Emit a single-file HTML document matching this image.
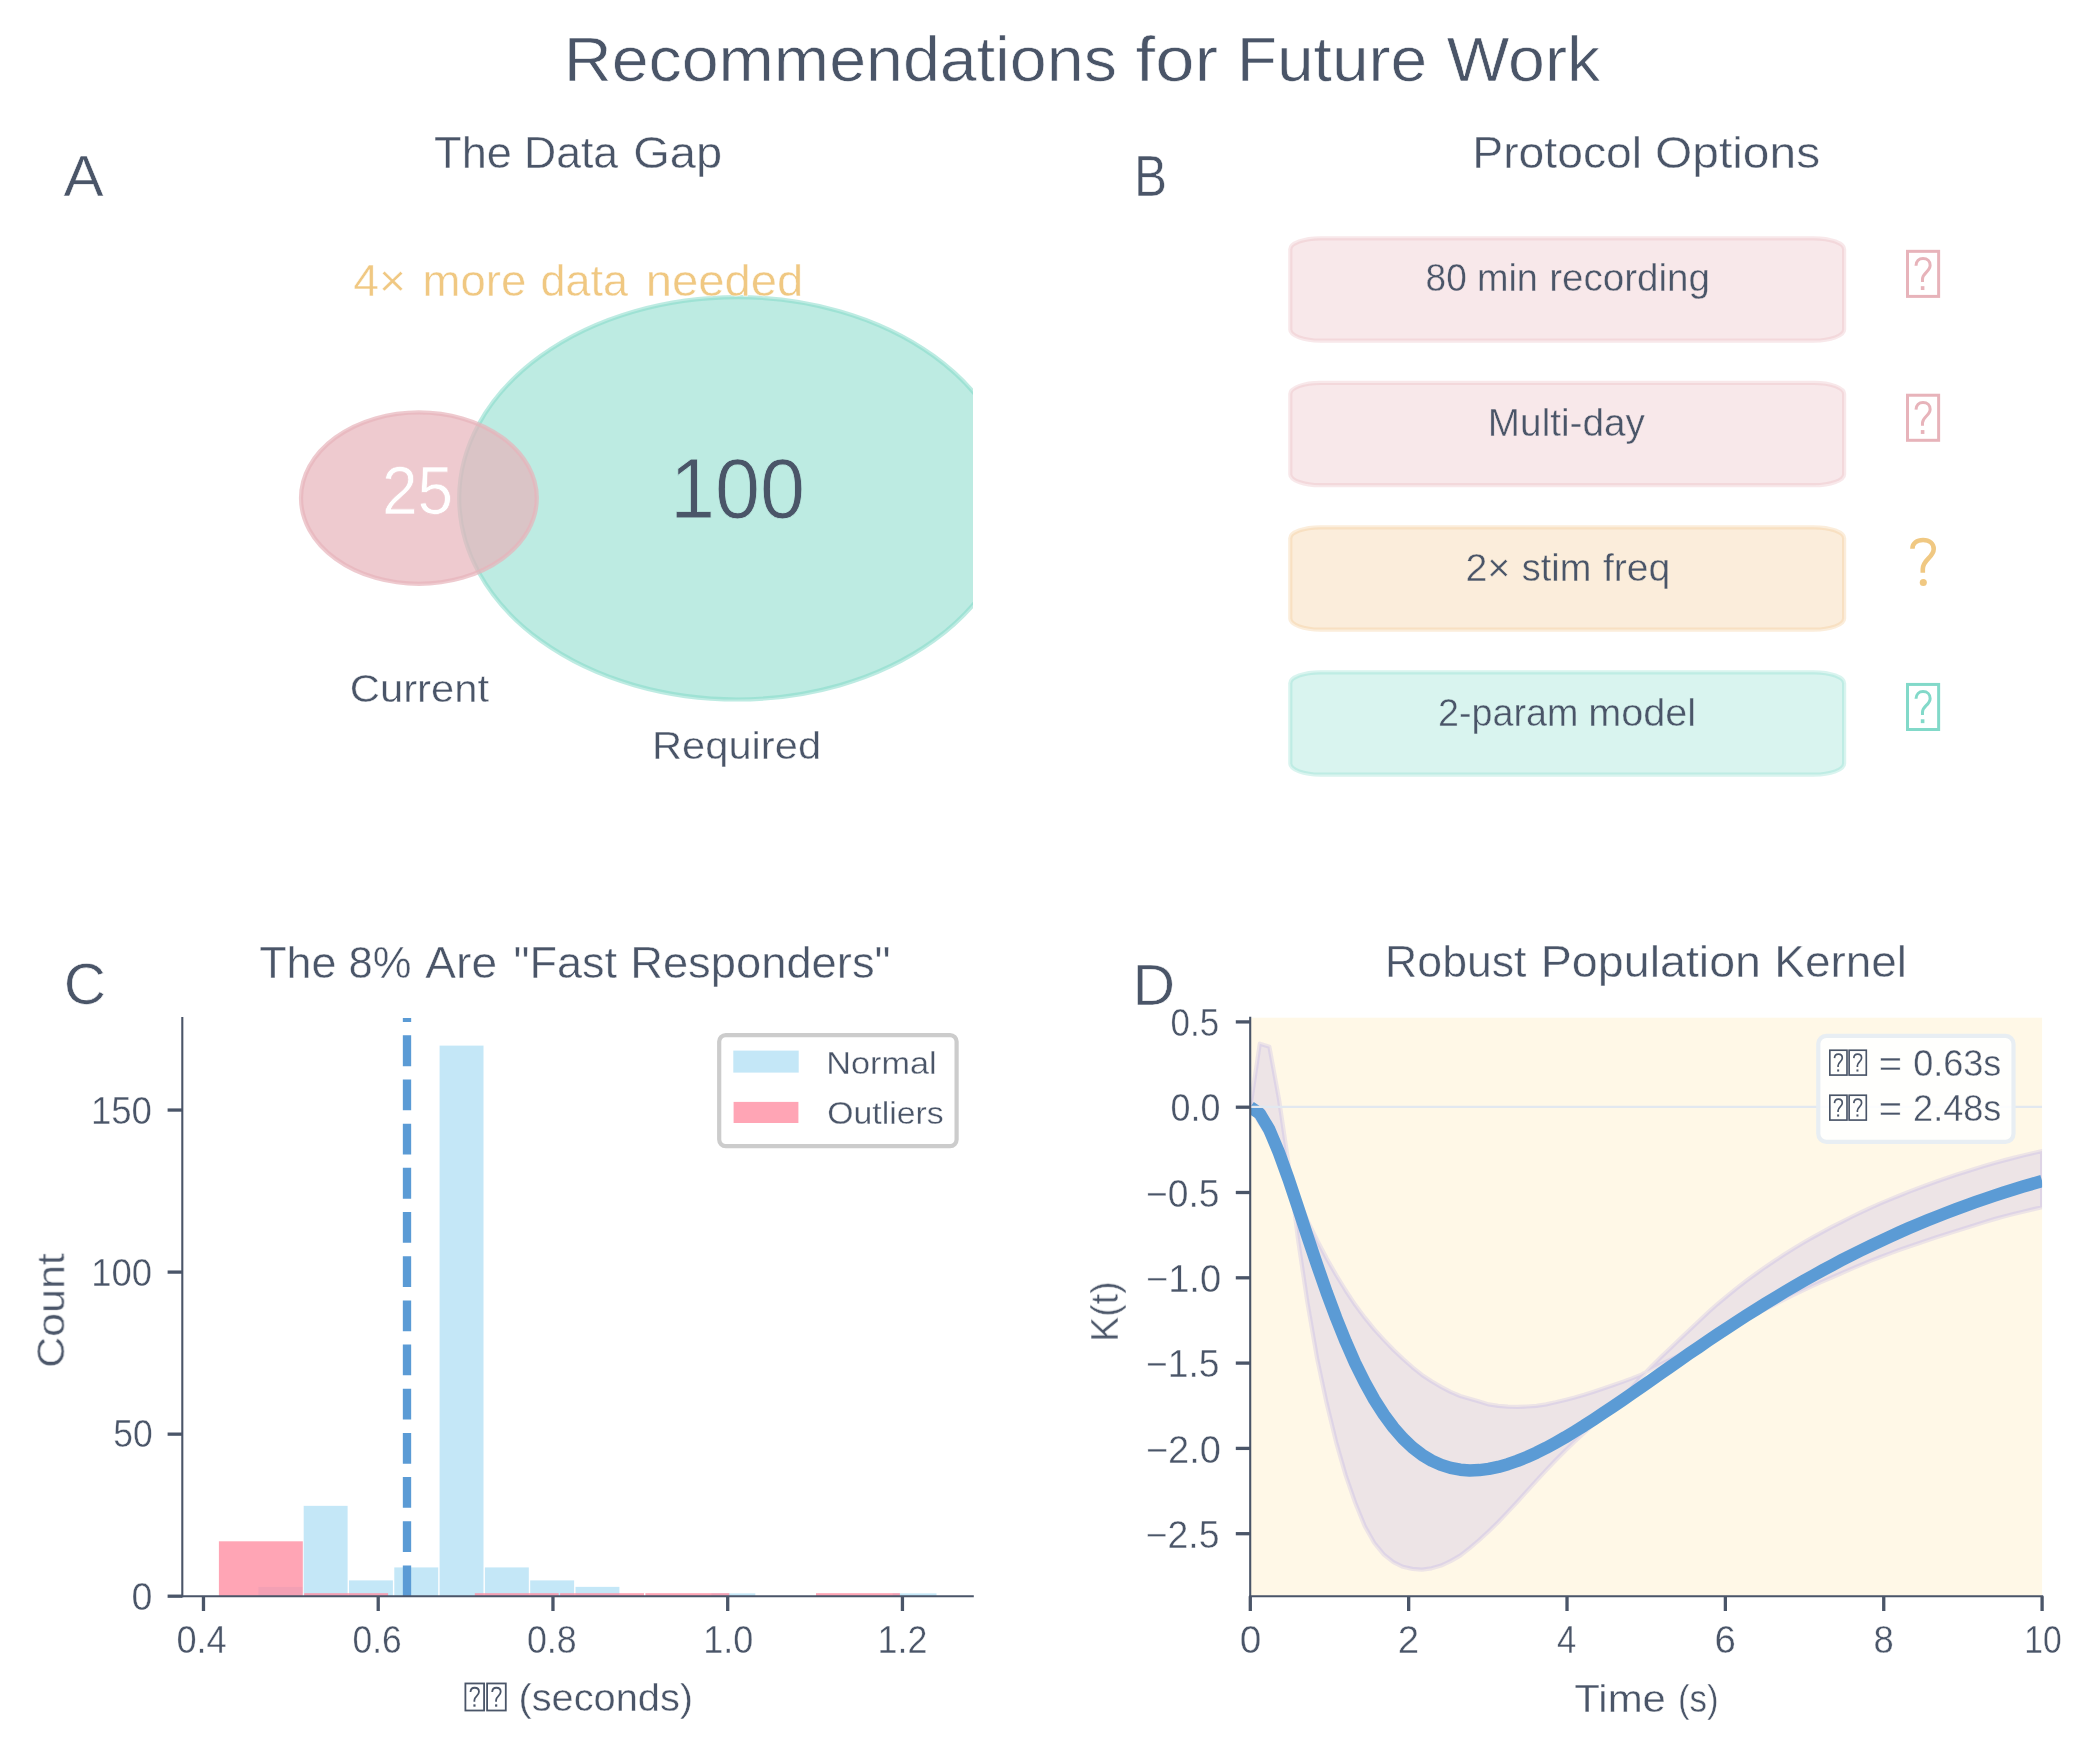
<!DOCTYPE html>
<html><head><meta charset="utf-8"><title>Recommendations for Future Work</title>
<style>html,body{margin:0;padding:0;background:#fff}svg{display:block}text{font-family:"Liberation Sans",sans-serif}</style></head><body>
<svg width="2092" height="1754" viewBox="0 0 2092 1754">
<defs>
<clipPath id="clipA"><rect x="182" y="209" width="791" height="578"/></clipPath>
<clipPath id="clipC"><rect x="182" y="1018" width="791.5" height="578"/></clipPath>
<clipPath id="clipD"><rect x="1250.3" y="1017.7" width="791.8" height="578.3"/></clipPath>
<symbol id="tofu" viewBox="0 0 512 721" overflow="visible"><rect x="22.5" y="22.5" width="467" height="676" fill="none" stroke="currentColor" stroke-width="45"/><path d="M150,238 C152,170 195,130 255,130 C320,130 362,172 362,232 C362,330 247,345 247,440 L247,482" fill="none" stroke="currentColor" stroke-width="45"/><rect x="222" y="545" width="54" height="58" fill="currentColor"/></symbol>
</defs>
<rect width="2092" height="1754" fill="#fff"/>
<g clip-path="url(#clipA)">
<ellipse cx="737.2" cy="498.3" rx="278" ry="201.2" fill="rgb(130,217,201)" fill-opacity="0.53" stroke="rgb(130,217,201)" stroke-opacity="0.53" stroke-width="4.2"/>
<ellipse cx="418.9" cy="498.1" rx="117.9" ry="85.7" fill="rgb(231,179,186)" fill-opacity="0.7" stroke="rgb(231,179,186)" stroke-opacity="0.7" stroke-width="4.2"/>
</g>
<rect x="1290.3" y="238.3" width="553.8" height="102.3" rx="30" ry="11" fill="rgb(231,179,186)" fill-opacity="0.3" stroke="rgb(231,179,186)" stroke-opacity="0.3" stroke-width="4.2"/>
<rect x="1290.3" y="382.9" width="553.8" height="102.3" rx="30" ry="11" fill="rgb(231,179,186)" fill-opacity="0.3" stroke="rgb(231,179,186)" stroke-opacity="0.3" stroke-width="4.2"/>
<rect x="1290.3" y="527.3" width="553.8" height="102.3" rx="30" ry="11" fill="rgb(242,197,136)" fill-opacity="0.3" stroke="rgb(242,197,136)" stroke-opacity="0.3" stroke-width="4.2"/>
<rect x="1290.3" y="672.3" width="553.8" height="102.3" rx="30" ry="11" fill="rgb(130,217,201)" fill-opacity="0.3" stroke="rgb(130,217,201)" stroke-opacity="0.3" stroke-width="4.2"/>
<use href="#tofu" x="1906.00" y="249.83" width="34.14" height="48.07" style="color:rgb(231,179,186)"/>
<use href="#tofu" x="1906.00" y="393.73" width="34.14" height="48.07" style="color:rgb(231,179,186)"/>
<use href="#tofu" x="1906.00" y="682.93" width="34.14" height="48.07" style="color:rgb(130,217,201)"/>
<path d="M1912.4,548.8 C1912.5,543.4 1916.9,540 1923.1,540 C1929.5,540 1933.7,543.6 1933.7,549 C1933.7,557.5 1922.8,559.5 1922.8,569 L1922.8,572.7" fill="none" stroke="#f0c882" stroke-width="4.6"/>
<circle cx="1923.3" cy="582.5" r="3.55" fill="#f0c882"/>
<g clip-path="url(#clipC)">
<rect x="258.40" y="1586.88" width="43.90" height="9.32" fill="#89cff0" fill-opacity="0.5"/>
<rect x="303.70" y="1505.85" width="43.90" height="90.35" fill="#89cff0" fill-opacity="0.5"/>
<rect x="349.00" y="1580.40" width="43.90" height="15.81" fill="#89cff0" fill-opacity="0.5"/>
<rect x="394.30" y="1567.43" width="43.90" height="28.77" fill="#89cff0" fill-opacity="0.5"/>
<rect x="439.60" y="1045.63" width="43.90" height="550.57" fill="#89cff0" fill-opacity="0.5"/>
<rect x="484.90" y="1567.43" width="43.90" height="28.77" fill="#89cff0" fill-opacity="0.5"/>
<rect x="530.20" y="1580.40" width="43.90" height="15.81" fill="#89cff0" fill-opacity="0.5"/>
<rect x="575.50" y="1586.88" width="43.90" height="9.32" fill="#89cff0" fill-opacity="0.5"/>
<rect x="711.40" y="1593.36" width="43.90" height="2.84" fill="#89cff0" fill-opacity="0.5"/>
<rect x="892.60" y="1593.36" width="43.90" height="2.84" fill="#89cff0" fill-opacity="0.5"/>
<rect x="218.90" y="1541.30" width="83.90" height="54.90" fill="#ff8fa3" fill-opacity="0.8"/>
<rect x="304.20" y="1593.16" width="83.90" height="3.04" fill="#ff8fa3" fill-opacity="0.8"/>
<rect x="474.80" y="1593.16" width="83.90" height="3.04" fill="#ff8fa3" fill-opacity="0.8"/>
<rect x="560.10" y="1593.16" width="83.90" height="3.04" fill="#ff8fa3" fill-opacity="0.8"/>
<rect x="645.40" y="1593.16" width="83.90" height="3.04" fill="#ff8fa3" fill-opacity="0.8"/>
<rect x="816.00" y="1593.16" width="83.90" height="3.04" fill="#ff8fa3" fill-opacity="0.8"/>
<line x1="407" y1="1596.2" x2="407" y2="1010" stroke="#5b9bd5" stroke-width="8.33" stroke-dasharray="30.8 13.37"/>
</g>
<line x1="182.3" y1="1017" x2="182.3" y2="1597.25" stroke="#4a5568" stroke-width="2.1"/>
<line x1="181.25" y1="1596.2" x2="973.8" y2="1596.2" stroke="#4a5568" stroke-width="2.1"/>
<line x1="167.6" y1="1596.20" x2="182.3" y2="1596.20" stroke="#4a5568" stroke-width="3.3"/>
<line x1="167.6" y1="1434.15" x2="182.3" y2="1434.15" stroke="#4a5568" stroke-width="3.3"/>
<line x1="167.6" y1="1272.10" x2="182.3" y2="1272.10" stroke="#4a5568" stroke-width="3.3"/>
<line x1="167.6" y1="1110.05" x2="182.3" y2="1110.05" stroke="#4a5568" stroke-width="3.3"/>
<line x1="203.48" y1="1596.2" x2="203.48" y2="1611" stroke="#4a5568" stroke-width="3.3"/>
<line x1="378.22" y1="1596.2" x2="378.22" y2="1611" stroke="#4a5568" stroke-width="3.3"/>
<line x1="552.96" y1="1596.2" x2="552.96" y2="1611" stroke="#4a5568" stroke-width="3.3"/>
<line x1="727.70" y1="1596.2" x2="727.70" y2="1611" stroke="#4a5568" stroke-width="3.3"/>
<line x1="902.44" y1="1596.2" x2="902.44" y2="1611" stroke="#4a5568" stroke-width="3.3"/>
<rect x="719.2" y="1035.1" width="237.4" height="111" rx="6.5" ry="6.5" fill="#fff" fill-opacity="0.9" stroke="#cccccc" stroke-width="4.2"/>
<rect x="733.3" y="1050.6" width="65.4" height="22" fill="#89cff0" fill-opacity="0.5"/>
<rect x="733.6" y="1101.9" width="64.8" height="21.1" fill="#ff8fa3" fill-opacity="0.8"/>
<use href="#tofu" x="464.50" y="1682.56" width="20.48" height="28.84" style="color:#4a5568"/>
<use href="#tofu" x="486.20" y="1682.56" width="20.48" height="28.84" style="color:#4a5568"/>
<rect x="1250.3" y="1017.7" width="791.8" height="578.3" fill="#fff8e7"/>
<g clip-path="url(#clipD)">
<polygon points="1250.3,1107.2 1259.8,1043.7 1269.4,1046.8 1278.9,1098.6 1288.5,1163.5 1298.0,1239.3 1307.5,1302.9 1317.1,1358.4 1326.6,1403.1 1336.2,1442.3 1345.7,1475.4 1355.2,1502.8 1364.8,1526.3 1374.3,1543.0 1383.9,1554.6 1393.4,1562.2 1402.9,1566.8 1412.5,1568.9 1422.0,1569.7 1431.6,1568.3 1441.1,1565.6 1450.6,1561.1 1460.2,1555.6 1469.7,1548.2 1479.3,1540.0 1488.8,1531.3 1498.3,1522.0 1507.9,1511.9 1517.4,1501.7 1527.0,1491.1 1536.5,1480.6 1546.0,1470.3 1555.6,1460.2 1565.1,1450.7 1574.7,1441.6 1584.2,1432.8 1593.7,1424.2 1603.3,1415.6 1612.8,1406.6 1622.4,1397.5 1631.9,1387.7 1641.4,1377.0 1651.0,1367.0 1660.5,1357.5 1670.0,1348.4 1679.6,1339.3 1689.1,1330.3 1698.7,1321.2 1708.2,1312.3 1717.7,1303.8 1727.3,1295.8 1736.8,1288.1 1746.4,1280.7 1755.9,1273.7 1765.4,1266.9 1775.0,1260.4 1784.5,1254.2 1794.1,1248.3 1803.6,1242.5 1813.1,1237.1 1822.7,1231.8 1832.2,1226.7 1841.8,1221.8 1851.3,1217.0 1860.8,1212.4 1870.4,1207.9 1879.9,1203.6 1889.5,1199.6 1899.0,1195.7 1908.5,1191.9 1918.1,1188.3 1927.6,1184.8 1937.2,1181.3 1946.7,1178.0 1956.2,1174.8 1965.8,1171.7 1975.3,1168.7 1984.9,1165.8 1994.4,1163.0 2003.9,1160.4 2013.5,1157.9 2023.0,1155.5 2032.6,1153.2 2042.1,1151.0 2042.1,1207.3 2032.6,1209.4 2023.0,1211.7 2013.5,1214.0 2003.9,1216.5 1994.4,1219.1 1984.9,1221.9 1975.3,1224.9 1965.8,1227.9 1956.2,1230.9 1946.7,1233.9 1937.2,1237.0 1927.6,1240.2 1918.1,1243.5 1908.5,1246.8 1899.0,1250.1 1889.5,1253.6 1879.9,1257.2 1870.4,1260.9 1860.8,1264.9 1851.3,1268.9 1841.8,1273.1 1832.2,1277.2 1822.7,1281.4 1813.1,1285.7 1803.6,1290.2 1794.1,1294.7 1784.5,1299.4 1775.0,1304.3 1765.4,1309.2 1755.9,1314.0 1746.4,1319.0 1736.8,1323.9 1727.3,1329.0 1717.7,1334.1 1708.2,1339.4 1698.7,1344.8 1689.1,1350.1 1679.6,1355.2 1670.0,1359.8 1660.5,1364.4 1651.0,1369.5 1641.4,1374.6 1631.9,1378.4 1622.4,1381.9 1612.8,1385.2 1603.3,1388.5 1593.7,1391.7 1584.2,1394.8 1574.7,1397.5 1565.1,1400.0 1555.6,1402.3 1546.0,1404.4 1536.5,1405.8 1527.0,1406.5 1517.4,1406.9 1507.9,1406.7 1498.3,1405.8 1488.8,1404.4 1479.3,1401.6 1469.7,1398.7 1460.2,1396.0 1450.6,1391.8 1441.1,1386.9 1431.6,1381.3 1422.0,1374.9 1412.5,1367.3 1402.9,1358.8 1393.4,1349.8 1383.9,1339.9 1374.3,1329.3 1364.8,1317.7 1355.2,1304.8 1345.7,1290.5 1336.2,1275.0 1326.6,1258.3 1317.1,1240.3 1307.5,1220.8 1298.0,1197.7 1288.5,1176.9 1278.9,1157.4 1269.4,1138.6 1259.8,1122.9 1250.3,1107.2" fill="rgb(165,148,232)" fill-opacity="0.2" stroke="rgb(165,148,232)" stroke-opacity="0.2" stroke-width="4.2" stroke-linejoin="round"/>
<polyline points="1250.3,1107.2 1259.8,1113.6 1269.4,1129.8 1278.9,1152.5 1288.5,1179.0 1298.0,1207.5 1307.5,1236.5 1317.1,1265.0 1326.6,1292.3 1336.2,1318.0 1345.7,1341.6 1355.2,1363.2 1364.8,1382.5 1374.3,1399.6 1383.9,1414.6 1393.4,1427.5 1402.9,1438.4 1412.5,1447.5 1422.0,1454.8 1431.6,1460.6 1441.1,1464.9 1450.6,1467.9 1460.2,1469.7 1469.7,1470.4 1479.3,1470.1 1488.8,1468.9 1498.3,1466.9 1507.9,1464.2 1517.4,1460.9 1527.0,1457.0 1536.5,1452.7 1546.0,1447.9 1555.6,1442.7 1565.1,1437.3 1574.7,1431.5 1584.2,1425.6 1593.7,1419.4 1603.3,1413.1 1612.8,1406.7 1622.4,1400.2 1631.9,1393.6 1641.4,1387.0 1651.0,1380.3 1660.5,1373.6 1670.0,1367.0 1679.6,1360.3 1689.1,1353.7 1698.7,1347.2 1708.2,1340.7 1717.7,1334.3 1727.3,1328.0 1736.8,1321.8 1746.4,1315.6 1755.9,1309.6 1765.4,1303.6 1775.0,1297.8 1784.5,1292.0 1794.1,1286.4 1803.6,1280.9 1813.1,1275.6 1822.7,1270.3 1832.2,1265.2 1841.8,1260.1 1851.3,1255.2 1860.8,1250.5 1870.4,1245.8 1879.9,1241.3 1889.5,1236.8 1899.0,1232.5 1908.5,1228.3 1918.1,1224.3 1927.6,1220.3 1937.2,1216.5 1946.7,1212.7 1956.2,1209.1 1965.8,1205.6 1975.3,1202.2 1984.9,1198.9 1994.4,1195.6 2003.9,1192.5 2013.5,1189.5 2023.0,1186.6 2032.6,1183.8 2042.1,1181.0" fill="none" stroke="#5b9bd5" stroke-width="12.5" stroke-linejoin="round"/>
<line x1="1250.3" y1="1106.9" x2="2042.1" y2="1106.9" stroke="#e2e8f0" stroke-width="2.1"/>
</g>
<line x1="1250.2" y1="1016.8" x2="1250.2" y2="1597.25" stroke="#4a5568" stroke-width="2.1"/>
<line x1="1249.15" y1="1596.2" x2="2043.2" y2="1596.2" stroke="#4a5568" stroke-width="2.1"/>
<line x1="1235.8" y1="1021.90" x2="1250.3" y2="1021.90" stroke="#4a5568" stroke-width="3.3"/>
<line x1="1235.8" y1="1107.20" x2="1250.3" y2="1107.20" stroke="#4a5568" stroke-width="3.3"/>
<line x1="1235.8" y1="1192.50" x2="1250.3" y2="1192.50" stroke="#4a5568" stroke-width="3.3"/>
<line x1="1235.8" y1="1277.80" x2="1250.3" y2="1277.80" stroke="#4a5568" stroke-width="3.3"/>
<line x1="1235.8" y1="1363.10" x2="1250.3" y2="1363.10" stroke="#4a5568" stroke-width="3.3"/>
<line x1="1235.8" y1="1448.40" x2="1250.3" y2="1448.40" stroke="#4a5568" stroke-width="3.3"/>
<line x1="1235.8" y1="1533.70" x2="1250.3" y2="1533.70" stroke="#4a5568" stroke-width="3.3"/>
<line x1="1250.30" y1="1596.2" x2="1250.30" y2="1611" stroke="#4a5568" stroke-width="3.3"/>
<line x1="1408.66" y1="1596.2" x2="1408.66" y2="1611" stroke="#4a5568" stroke-width="3.3"/>
<line x1="1567.02" y1="1596.2" x2="1567.02" y2="1611" stroke="#4a5568" stroke-width="3.3"/>
<line x1="1725.38" y1="1596.2" x2="1725.38" y2="1611" stroke="#4a5568" stroke-width="3.3"/>
<line x1="1883.74" y1="1596.2" x2="1883.74" y2="1611" stroke="#4a5568" stroke-width="3.3"/>
<line x1="2042.10" y1="1596.2" x2="2042.10" y2="1611" stroke="#4a5568" stroke-width="3.3"/>
<rect x="1818.3" y="1035.8" width="195.2" height="106" rx="8" ry="8" fill="#fff" fill-opacity="0.9" stroke="rgb(232,238,243)" stroke-width="4.2"/>
<use href="#tofu" x="1829.00" y="1049.40" width="18.82" height="26.50" style="color:#4a5568"/>
<use href="#tofu" x="1848.30" y="1049.40" width="18.82" height="26.50" style="color:#4a5568"/>
<use href="#tofu" x="1829.00" y="1094.40" width="18.82" height="26.50" style="color:#4a5568"/>
<use href="#tofu" x="1848.30" y="1094.40" width="18.82" height="26.50" style="color:#4a5568"/>
<g opacity="0.999">
<text transform="translate(563.76,81.00) scale(1.0476,1)" font-size="63.33" fill="#4a5568" stroke="#fff" stroke-width="0.63">Recommendations</text>
<text transform="translate(1135.58,81.00) scale(1.1153,1)" font-size="63.33" fill="#4a5568" stroke="#fff" stroke-width="0.63">for</text>
<text transform="translate(1236.70,81.00) scale(1.0406,1)" font-size="63.33" fill="#4a5568" stroke="#fff" stroke-width="0.63">Future</text>
<text transform="translate(1446.70,81.00) scale(1.0469,1)" font-size="63.33" fill="#4a5568" stroke="#fff" stroke-width="0.63">Work</text>
<text transform="translate(63.40,196.00) scale(1.0421,1)" font-size="57.75" fill="#4a5568" stroke="#fff" stroke-width="0.58">A</text>
<text transform="translate(1134.06,196.00) scale(0.8594,1)" font-size="57.75" fill="#4a5568" stroke="#fff" stroke-width="0.58">B</text>
<text transform="translate(63.65,1004.00) scale(1.0167,1)" font-size="57.75" fill="#4a5568" stroke="#fff" stroke-width="0.58">C</text>
<text transform="translate(1132.61,1004.60) scale(1.0229,1)" font-size="57.75" fill="#4a5568" stroke="#fff" stroke-width="0.58">D</text>
<text transform="translate(434.06,167.80) scale(1.0375,1)" font-size="43.54" fill="#4a5568" stroke="#fff" stroke-width="0.44">The</text>
<text transform="translate(523.93,167.80) scale(1.0247,1)" font-size="43.54" fill="#4a5568" stroke="#fff" stroke-width="0.44">Data</text>
<text transform="translate(633.24,167.80) scale(1.0810,1)" font-size="43.54" fill="#4a5568" stroke="#fff" stroke-width="0.44">Gap</text>
<text transform="translate(1472.31,167.80) scale(1.0636,1)" font-size="43.54" fill="#4a5568" stroke="#fff" stroke-width="0.44">Protocol</text>
<text transform="translate(1655.00,167.80) scale(1.1007,1)" font-size="43.54" fill="#4a5568" stroke="#fff" stroke-width="0.44">Options</text>
<text transform="translate(259.17,977.90) scale(1.0292,1)" font-size="43.54" fill="#4a5568" stroke="#fff" stroke-width="0.44">The</text>
<text transform="translate(348.50,977.90) scale(1.0017,1)" font-size="43.54" fill="#4a5568" stroke="#fff" stroke-width="0.44">8%</text>
<text transform="translate(425.30,977.90) scale(1.0591,1)" font-size="43.54" fill="#4a5568" stroke="#fff" stroke-width="0.44">Are</text>
<text transform="translate(513.53,977.90) scale(1.0347,1)" font-size="43.54" fill="#4a5568" stroke="#fff" stroke-width="0.44">&quot;Fast</text>
<text transform="translate(630.18,977.90) scale(1.0411,1)" font-size="43.54" fill="#4a5568" stroke="#fff" stroke-width="0.44">Responders&quot;</text>
<text transform="translate(1385.12,977.00) scale(1.0252,1)" font-size="43.54" fill="#4a5568" stroke="#fff" stroke-width="0.44">Robust</text>
<text transform="translate(1540.79,977.00) scale(1.0705,1)" font-size="43.54" fill="#4a5568" stroke="#fff" stroke-width="0.44">Population</text>
<text transform="translate(1774.24,977.00) scale(1.0550,1)" font-size="43.54" fill="#4a5568" stroke="#fff" stroke-width="0.44">Kernel</text>
<text transform="translate(353.34,295.90) scale(1.0630,1)" font-size="43.54" fill="#f0c882" stroke="#fff" stroke-width="0.44">4×</text>
<text transform="translate(422.56,295.90) scale(1.0463,1)" font-size="43.54" fill="#f0c882" stroke="#fff" stroke-width="0.44">more</text>
<text transform="translate(540.43,295.90) scale(1.0337,1)" font-size="43.54" fill="#f0c882" stroke="#fff" stroke-width="0.44">data</text>
<text transform="translate(645.64,295.90) scale(1.0864,1)" font-size="43.54" fill="#f0c882" stroke="#fff" stroke-width="0.44">needed</text>
<text transform="translate(381.88,514.00) scale(0.9414,1)" font-size="68.0" fill="#ffffff" stroke="rgb(238,202,207)" stroke-width="0.68">25</text>
<text transform="translate(669.88,518.20) scale(0.9526,1)" font-size="85.0" fill="#4a5568" stroke="rgb(189,235,226)" stroke-width="0.85">100</text>
<text transform="translate(349.79,701.70) scale(1.0554,1)" font-size="39.58" fill="#4a5568" stroke="#fff" stroke-width="0.40">Current</text>
<text transform="translate(651.94,758.90) scale(1.0535,1)" font-size="39.58" fill="#4a5568" stroke="#fff" stroke-width="0.40">Required</text>
<text transform="translate(1425.56,291.30) scale(0.9357,1)" font-size="39.58" fill="#4a5568" stroke="rgb(248,232,234)" stroke-width="0.40">80</text>
<text transform="translate(1476.89,291.30) scale(0.9567,1)" font-size="39.58" fill="#4a5568" stroke="rgb(248,232,234)" stroke-width="0.40">min</text>
<text transform="translate(1549.15,291.30) scale(0.9745,1)" font-size="39.58" fill="#4a5568" stroke="rgb(248,232,234)" stroke-width="0.40">recording</text>
<text transform="translate(1487.86,435.80) scale(0.9785,1)" font-size="39.58" fill="#4a5568" stroke="rgb(248,232,234)" stroke-width="0.40">Multi-day</text>
<text transform="translate(1465.41,581.30) scale(0.9951,1)" font-size="39.58" fill="#4a5568" stroke="rgb(251,238,219)" stroke-width="0.40">2×</text>
<text transform="translate(1521.64,581.30) scale(0.9609,1)" font-size="39.58" fill="#4a5568" stroke="rgb(251,238,219)" stroke-width="0.40">stim</text>
<text transform="translate(1602.90,581.30) scale(0.9894,1)" font-size="39.58" fill="#4a5568" stroke="rgb(251,238,219)" stroke-width="0.40">freq</text>
<text transform="translate(1438.10,725.80) scale(0.9524,1)" font-size="39.58" fill="#4a5568" stroke="rgb(218,244,239)" stroke-width="0.40">2-param</text>
<text transform="translate(1588.20,725.80) scale(1.0010,1)" font-size="39.58" fill="#4a5568" stroke="rgb(218,244,239)" stroke-width="0.40">model</text>
<text transform="translate(131.52,1609.60) scale(0.9842,1)" font-size="38.25" fill="#4a5568" stroke="#fff" stroke-width="0.38">0</text>
<text transform="translate(113.17,1447.40) scale(0.9275,1)" font-size="38.25" fill="#4a5568" stroke="#fff" stroke-width="0.38">50</text>
<text transform="translate(91.14,1285.60) scale(0.9533,1)" font-size="38.25" fill="#4a5568" stroke="#fff" stroke-width="0.38">100</text>
<text transform="translate(90.93,1123.50) scale(0.9567,1)" font-size="38.25" fill="#4a5568" stroke="#fff" stroke-width="0.38">150</text>
<text transform="translate(176.45,1653.40) scale(0.9462,1)" font-size="38.25" fill="#4a5568" stroke="#fff" stroke-width="0.38">0.4</text>
<text transform="translate(352.47,1653.40) scale(0.9255,1)" font-size="38.25" fill="#4a5568" stroke="#fff" stroke-width="0.38">0.6</text>
<text transform="translate(526.96,1653.40) scale(0.9353,1)" font-size="38.25" fill="#4a5568" stroke="#fff" stroke-width="0.38">0.8</text>
<text transform="translate(703.17,1653.40) scale(0.9429,1)" font-size="38.25" fill="#4a5568" stroke="#fff" stroke-width="0.38">1.0</text>
<text transform="translate(877.59,1653.40) scale(0.9367,1)" font-size="38.25" fill="#4a5568" stroke="#fff" stroke-width="0.38">1.2</text>
<text transform="translate(64.30,1367.77) rotate(-90) scale(1.0856,1)" font-size="39.58" fill="#4a5568" stroke="#fff" stroke-width="0.40">Count</text>
<text transform="translate(518.39,1710.70) scale(1.0053,1)" font-size="39.58" fill="#4a5568" stroke="#fff" stroke-width="0.40">(seconds)</text>
<text transform="translate(826.34,1073.80) scale(1.0816,1)" font-size="31.67" fill="#4a5568" stroke="#fff" stroke-width="0.32">Normal</text>
<text transform="translate(827.13,1124.40) scale(1.0682,1)" font-size="31.67" fill="#4a5568" stroke="#fff" stroke-width="0.32">Outliers</text>
<text transform="translate(1239.78,1653.10) scale(1.0158,1)" font-size="38.25" fill="#4a5568" stroke="#fff" stroke-width="0.38">0</text>
<text transform="translate(1397.79,1653.10) scale(1.0056,1)" font-size="38.25" fill="#4a5568" stroke="#fff" stroke-width="0.38">2</text>
<text transform="translate(1557.10,1653.10) scale(0.9050,1)" font-size="38.25" fill="#4a5568" stroke="#fff" stroke-width="0.38">4</text>
<text transform="translate(1714.59,1653.10) scale(1.0056,1)" font-size="38.25" fill="#4a5568" stroke="#fff" stroke-width="0.38">6</text>
<text transform="translate(1873.45,1653.10) scale(0.9526,1)" font-size="38.25" fill="#4a5568" stroke="#fff" stroke-width="0.38">8</text>
<text transform="translate(2024.36,1653.10) scale(0.8789,1)" font-size="38.25" fill="#4a5568" stroke="#fff" stroke-width="0.38">10</text>
<text transform="translate(1170.59,1036.00) scale(0.9118,1)" font-size="38.25" fill="#4a5568" stroke="#fff" stroke-width="0.38">0.5</text>
<text transform="translate(1170.56,1121.30) scale(0.9392,1)" font-size="38.25" fill="#4a5568" stroke="#fff" stroke-width="0.38">0.0</text>
<text transform="translate(1145.95,1206.60) scale(0.9736,1)" font-size="38.25" fill="#4a5568" stroke="#fff" stroke-width="0.38">−0.5</text>
<text transform="translate(1145.91,1291.90) scale(0.9958,1)" font-size="38.25" fill="#4a5568" stroke="#fff" stroke-width="0.38">−1.0</text>
<text transform="translate(1145.95,1377.20) scale(0.9736,1)" font-size="38.25" fill="#4a5568" stroke="#fff" stroke-width="0.38">−1.5</text>
<text transform="translate(1145.91,1462.50) scale(0.9944,1)" font-size="38.25" fill="#4a5568" stroke="#fff" stroke-width="0.38">−2.0</text>
<text transform="translate(1145.75,1547.80) scale(0.9764,1)" font-size="38.25" fill="#4a5568" stroke="#fff" stroke-width="0.38">−2.5</text>
<text transform="translate(1574.24,1711.70) scale(1.0607,1)" font-size="39.58" fill="#4a5568" stroke="#fff" stroke-width="0.40">Time</text>
<text transform="translate(1677.94,1711.70) scale(0.8810,1)" font-size="39.58" fill="#4a5568" stroke="#fff" stroke-width="0.40">(s)</text>
<text transform="translate(1118.00,1341.85) rotate(-90) scale(0.9492,1)" font-size="39.58" fill="#4a5568" stroke="#fff" stroke-width="0.40">K(t)</text>
<text transform="translate(1878.67,1075.70) scale(1.0667,1)" font-size="37.5" fill="#4a5568" stroke="#fffefd" stroke-width="0.38">=</text>
<text transform="translate(1913.14,1075.70) scale(0.9622,1)" font-size="37.5" fill="#4a5568" stroke="#fffefd" stroke-width="0.38">0.63s</text>
<text transform="translate(1878.67,1120.70) scale(1.0667,1)" font-size="37.5" fill="#4a5568" stroke="#fffefd" stroke-width="0.38">=</text>
<text transform="translate(1913.07,1120.70) scale(0.9629,1)" font-size="37.5" fill="#4a5568" stroke="#fffefd" stroke-width="0.38">2.48s</text>
</g>
</svg></body></html>
